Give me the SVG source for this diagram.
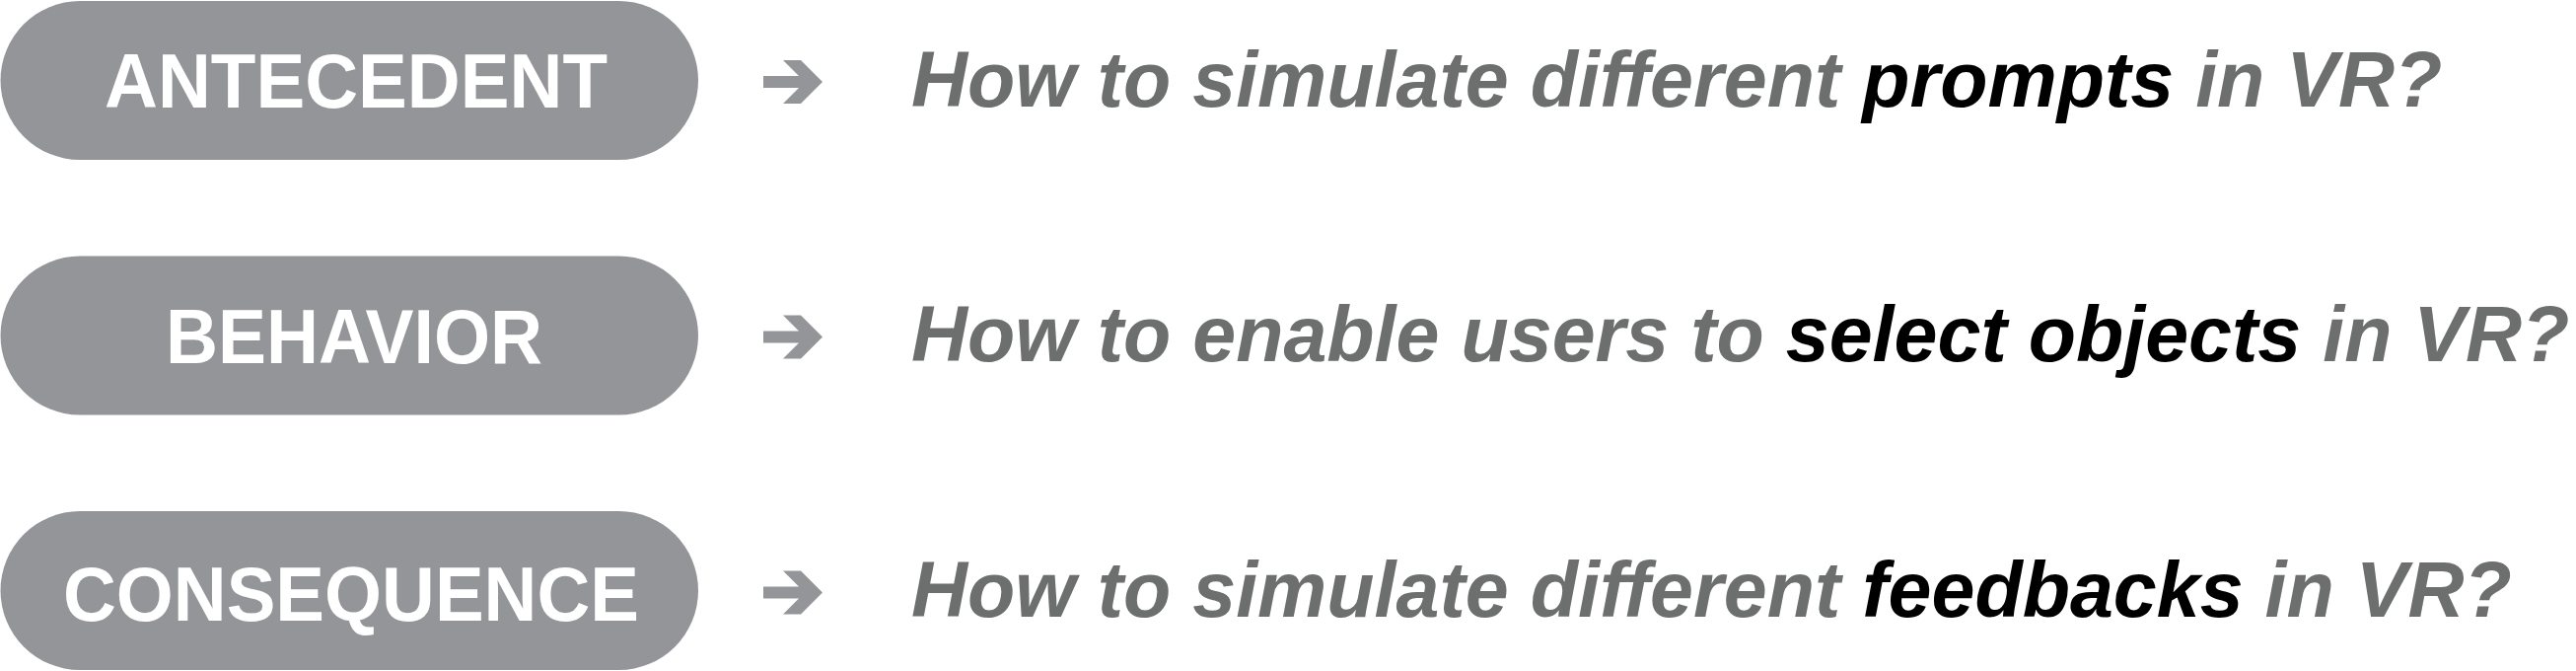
<svg xmlns="http://www.w3.org/2000/svg" xmlns:xlink="http://www.w3.org/1999/xlink" width="2612" height="680" viewBox="0 0 2612 680">
<style>
.pill{fill:#939598}
.lbl{font-family:"Liberation Sans",Arial,sans-serif;font-weight:bold;font-size:77px;fill:#ffffff;text-anchor:middle}
.q{font-family:"Liberation Sans",Arial,sans-serif;font-weight:bold;font-style:italic;font-size:79px;fill:#6d6e6e}
.k{fill:#000000}
.arr{fill:#939598}
</style>
<defs>
<polygon id="arrow" points="774,77 810,77 794,61 812,61 834,83 812,105 794,105 810,89 774,89"/>
</defs>
<rect width="2612" height="680" fill="#ffffff"/>
<g id="antecedent">
<rect class="pill" x="0.5" y="1" width="707.5" height="161" rx="80.5"/>
<text class="lbl" x="361" y="109" textLength="510" lengthAdjust="spacingAndGlyphs">ANTECEDENT</text>
</g>
<g id="behavior">
<rect class="pill" x="0.5" y="259.5" width="707.5" height="161" rx="80.5"/>
<text class="lbl" x="359" y="368" textLength="382" lengthAdjust="spacingAndGlyphs">BEHAVIOR</text>
</g>
<g id="consequence">
<rect class="pill" x="0.5" y="518" width="707.5" height="161" rx="80.5"/>
<text class="lbl" x="356" y="629" textLength="584" lengthAdjust="spacingAndGlyphs">CONSEQUENCE</text>
</g>
<g id="connectors">
<use xlink:href="#arrow" class="arr"/>
<use xlink:href="#arrow" class="arr" transform="translate(0,258.5)"/>
<use xlink:href="#arrow" class="arr" transform="translate(0,517.5)"/>
</g>
<g id="question-antecedent">
<text class="q" x="924" y="108">How to simulate different <tspan class="k">prompts</tspan> in VR?</text>
</g>
<g id="question-behavior">
<text class="q" x="924" y="366">How to enable users to <tspan class="k">select objects</tspan> in VR?</text>
</g>
<g id="question-consequence">
<text class="q" x="924" y="625">How to simulate different <tspan class="k">feedbacks</tspan> in VR?</text>
</g>
</svg>
